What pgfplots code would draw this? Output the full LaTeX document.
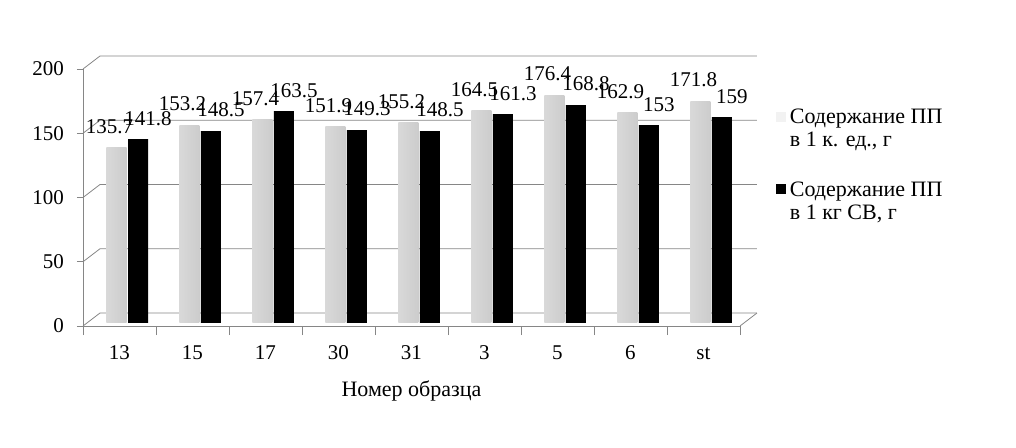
\documentclass[border=0pt]{standalone}
\usepackage{pgfplots}
\pgfplotsset{compat=1.18}
\usepackage{fontspec}
\setmainfont{Liberation Serif}
\definecolor{axgray}{HTML}{868686}
\definecolor{barwhite}{HTML}{F2F2F2}
\begin{document}
\begin{tikzpicture}
\useasboundingbox (0,0) rectangle (508pt,223.5pt);
\begin{axis}[
  at={(41.5pt,60.5pt)}, anchor=south west,
  scale only axis, width=328.5pt, height=128.5pt,
  xmin=-0.5, xmax=8.5, ymin=0, ymax=200,
  axis x line*=bottom, axis y line*=left,
  axis line style={axgray, -},
  ybar, bar width=10pt,
  /pgf/number format/assume math mode=true,
  ytick={0,50,100,150,200},
  xtick={0,...,8},
  xticklabels={13,15,17,30,31,3,5,6,st},
  minor xtick={-0.5,0.5,...,8.5},
  tick align=outside,
  major tick length=3pt,
  minor tick length=4.5pt,
  every tick/.style={axgray},
  major x tick style={draw=none},
  tick label style={font=\fontsize{10.5}{12}\selectfont, black},
  xticklabel style={yshift=-3pt, text height=7pt, text depth=0pt},
  yticklabel style={xshift=-3pt},
  xlabel={Номер образца},
  xlabel style={font=\fontsize{11}{13}\selectfont, yshift=-4pt},
  legend style={at={(rel axis cs:1.054,0.86)}, anchor=north west, draw=none, fill=none,
    font=\fontsize{11}{11.5}\selectfont, cells={align=left, anchor=west}, row sep=12pt, inner sep=0pt},
  legend image code/.code={\fill[#1] (-3pt,4pt) rectangle (2pt,9pt);},
  clip=false,
  wb/.style={bar shift=-1.5pt, draw=none, left color=gray!30, middle color=white, right color=gray!40,
    yshift=2pt, forget plot, nodes near coords,
    every node near coord/.append style={font=\fontsize{10.5}{12}\selectfont, black, xshift=-3.5pt, yshift=3.5pt}},
  bb/.style={bar shift=9.25pt, draw=none, left color=black, middle color=black!70, right color=black,
    yshift=2pt, forget plot, nodes near coords,
    every node near coord/.append style={font=\fontsize{10.5}{12}\selectfont, black, xshift=5pt, yshift=3.5pt}},
]
\pgfplotsinvokeforeach{0,50,100,150,200}{
  \draw[axgray] (axis cs:-0.5,#1) -- ([xshift=8.5pt,yshift=6.5pt]axis cs:-0.5,#1) -- ([xshift=8.5pt,yshift=6.5pt]axis cs:8.5,#1);
}
\draw[axgray] (axis cs:8.5,0) -- ([xshift=8.5pt,yshift=6.5pt]axis cs:8.5,0);
% white series: Содержание ПП в 1 к. ед., г
\addplot[wb] coordinates {(0,135.7)};
\addplot[wb] coordinates {(1,153.2)};
\addplot[wb] coordinates {(2,157.4)};
\addplot[wb] coordinates {(3,151.9)};
\addplot[wb] coordinates {(4,155.2)};
\addplot[wb] coordinates {(5,164.5)};
\addplot[wb] coordinates {(6,176.4)};
\addplot[wb] coordinates {(7,162.9)};
\addplot[wb] coordinates {(8,171.8)};
% black series: Содержание ПП в 1 кг СВ, г
\addplot[bb] coordinates {(0,141.8)};
\addplot[bb] coordinates {(1,148.5)};
\addplot[bb] coordinates {(2,163.5)};
\addplot[bb] coordinates {(3,149.3)};
\addplot[bb] coordinates {(4,148.5)};
\addplot[bb] coordinates {(5,161.3)};
\addplot[bb] coordinates {(6,168.8)};
\addplot[bb] coordinates {(7,153)};
\addplot[bb] coordinates {(8,159)};
\addlegendimage{fill=barwhite, draw=none}
\addlegendentry{Содержание ПП\\в 1 к. ед., г}
\addlegendimage{fill=black, draw=none}
\addlegendentry{Содержание ПП\\в 1 кг СВ, г}
\end{axis}
\end{tikzpicture}
\end{document}
